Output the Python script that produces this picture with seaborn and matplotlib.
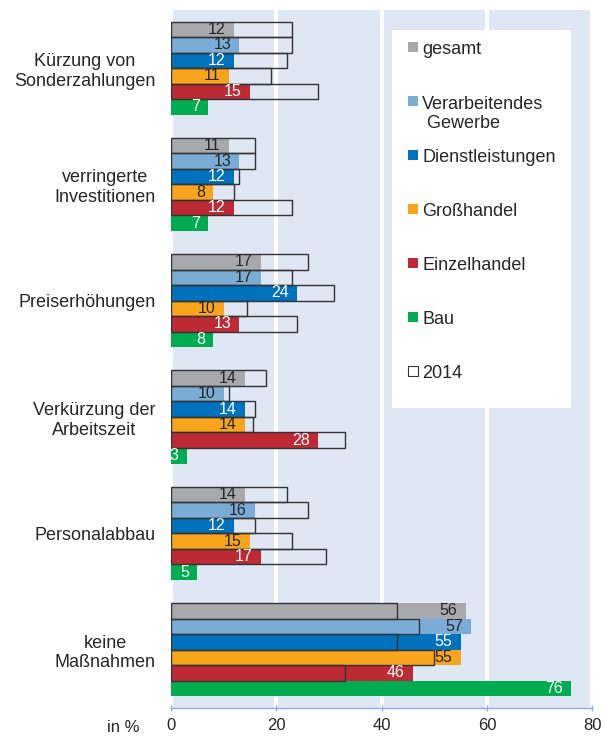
import numpy as np
import pandas as pd
import matplotlib.pyplot as plt
from matplotlib.patches import Rectangle
import seaborn as sns

categories = ["Kürzung von\nSonderzahlungen", "verringerte\nInvestitionen", "Preiserhöhungen",
              "Verkürzung der\nArbeitszeit", "Personalabbau", "keine\nMaßnahmen"]
series = ["gesamt", "Verarbeitendes Gewerbe", "Dienstleistungen", "Großhandel", "Einzelhandel", "Bau"]
legend_labels = ["gesamt", "Verarbeitendes\n Gewerbe", "Dienstleistungen", "Großhandel", "Einzelhandel", "Bau"]
colors = ["#a7a9ac", "#7bacd6", "#0071bc", "#f8a51d", "#be2a33", "#00ac4f"]
label_colors = ["#262626", "#262626", "white", "#262626", "white", "white"]

# aktuelle Werte (in %)
gesamt = [12, 11, 17, 14, 14, 56]
verarbeitendes = [13, 13, 17, 10, 16, 57]
dienstleistungen = [12, 12, 24, 14, 12, 55]
grosshandel = [11, 8, 10, 14, 15, 55]
einzelhandel = [15, 12, 13, 28, 17, 46]
bau = [7, 7, 8, 3, 5, 76]

# Werte 2014 (Rahmen), Bau ohne Vorjahreswert
gesamt_2014 = [23, 16, 26, 18, 22, 43]
verarbeitendes_2014 = [23, 16, 23, 11, 26, 47]
dienstleistungen_2014 = [22, 13, 31, 16, 16, 43]
grosshandel_2014 = [19, 12, 14.5, 15.5, 23, 50]
einzelhandel_2014 = [28, 23, 24, 33, 29.5, 33]
bau_2014 = [np.nan] * 6


def to_long(values):
    rows = []
    for name, vals in zip(series, values):
        for cat, v in zip(categories, vals):
            rows.append({"Maßnahme": cat, "Branche": name, "Anteil": v})
    return pd.DataFrame(rows)


df_now = to_long([gesamt, verarbeitendes, dienstleistungen, grosshandel, einzelhandel, bau])
df_2014 = to_long([gesamt_2014, verarbeitendes_2014, dienstleistungen_2014,
                   grosshandel_2014, einzelhandel_2014, bau_2014]).dropna()

plt.rcParams["font.family"] = ["Liberation Sans", "DejaVu Sans"]
text_color = "#262626"
axis_color = "#8fb0dc"

fig = plt.figure(figsize=(6.05, 7.37), dpi=100)
ax = fig.add_axes([171 / 605, 1 - 707.7 / 737, 421.3 / 605, 697.7 / 737])
ax.set_facecolor("#dfe7f5")

palette = dict(zip(series, colors))
sns.barplot(data=df_now, x="Anteil", y="Maßnahme", hue="Branche", order=categories,
            hue_order=series, palette=palette, orient="h", width=0.8, errorbar=None,
            saturation=1, linewidth=0, legend=False, ax=ax)
n_fill = len(ax.patches)
fill_containers = list(ax.containers)

sns.barplot(data=df_2014, x="Anteil", y="Maßnahme", hue="Branche", order=categories,
            hue_order=series, palette=palette, orient="h", width=0.8, errorbar=None,
            legend=False, ax=ax)
for p in ax.patches[n_fill:]:
    p.set_facecolor("none")
    p.set_edgecolor("#333333")
    p.set_linewidth(1.0)
    p.set_zorder(3)

for cont, lc in zip(fill_containers, label_colors):
    texts = ax.bar_label(cont, fmt="%d", padding=-6, fontsize=11.5, color=lc)
    for t in texts:
        t.set_ha("right")
        t.set_zorder(4)

ax.set_xlim(0, 80)
ax.set_xticks([0, 20, 40, 60, 80])
ax.set_axisbelow(True)
ax.xaxis.grid(True, color="white", linewidth=3)
ax.yaxis.grid(False)
for side in ["top", "right", "left"]:
    ax.spines[side].set_visible(False)
ax.spines["bottom"].set_color(axis_color)
ax.spines["bottom"].set_linewidth(1)
ax.tick_params(axis="x", colors=axis_color, labelcolor=text_color, labelsize=12,
               direction="inout", length=5, width=1, pad=5)
ax.tick_params(axis="y", length=0, pad=11, labelsize=13, labelcolor=text_color)
for lbl in ax.get_yticklabels():
    lbl.set_multialignment("center")
ax.set_xlabel("")
ax.set_ylabel("")
ax.text(-0.074, -0.028, "in %", transform=ax.transAxes, ha="right", va="center",
        fontsize=12, color=text_color)

# Legende in weißem Kasten
ax.add_patch(Rectangle((0.525, 0.4296), 0.425, 0.5414, transform=ax.transAxes,
                       facecolor="white", edgecolor="none", zorder=2))
handles = list(zip(legend_labels, colors)) + [("2014", "white")]
for i, (lab, col) in enumerate(handles):
    yc = (707.7 - (47 + 54 * i)) / 697.7
    ec = "#333333" if lab == "2014" else "none"
    ax.add_patch(Rectangle((0.5626, yc - 0.0075), 0.0237, 0.015, transform=ax.transAxes,
                           facecolor=col, edgecolor=ec, linewidth=0.8, zorder=5))
    n_lines = lab.count("\n")
    ty = yc - n_lines * 10 / 697.7
    ax.text(0.596, ty, lab, transform=ax.transAxes, ha="left", va="center_baseline",
            fontsize=13, color=text_color, zorder=5, linespacing=1.15)

fig.savefig("out.png", dpi=100)
